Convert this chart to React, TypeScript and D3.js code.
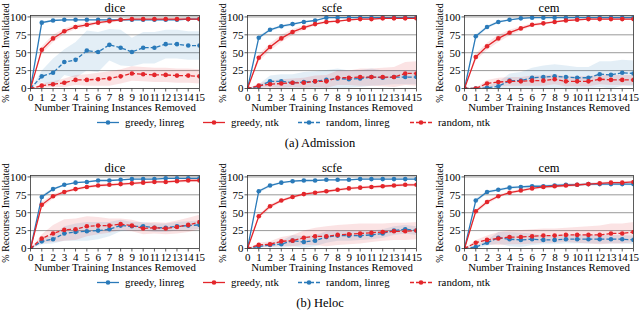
import * as React from "react"
import * as d3 from "d3"

// x categories and ticks
const removed = [0, 1, 2, 3, 4, 5, 6, 7, 8, 9, 10, 11, 12, 13, 14, 15]
const yTicks = [0, 25, 50, 75, 100]
const methods = ["dice", "scfe", "cem"]
const captions = ["(a) Admission", "(b) Heloc"]
const seriesNames = ["greedy, linreg", "greedy, ntk", "random, linreg", "random, ntk"]

// Admission - dice
const admDiceGL = [0, 92, 95, 96, 96, 96, 96, 96, 96, 96, 96, 96, 96, 96, 97, 97]
const admDiceGLStd = [0, 2, 1, 1, 1, 1, 1, 1, 1, 1, 1, 1, 1, 1, 1, 1]
const admDiceGN = [0, 54, 70, 80, 86, 89, 92, 94, 96, 97, 97, 97, 97, 97, 97, 97]
const admDiceGNStd = [0, 5, 5, 4, 3, 3, 2, 2, 2, 1, 1, 1, 1, 1, 1, 1]
const admDiceRL = [0, 17, 22, 37, 40, 53, 51, 61, 57, 51, 57, 57, 62, 62, 60, 60]
const admDiceRLStd = [0, 8, 20, 18, 25, 28, 28, 22, 25, 20, 22, 22, 20, 20, 20, 20]
const admDiceRN = [0, 4, 6, 8, 12, 12, 13, 14, 17, 21, 20, 19, 19, 18, 18, 17]
const admDiceRNStd = [0, 3, 4, 6, 7, 8, 9, 10, 10, 10, 10, 10, 10, 10, 10, 10]

// Admission - scfe
const admScfeGL = [0, 71, 82, 87, 90, 93, 95, 99, 99, 99, 99, 99, 99, 99, 99, 99]
const admScfeGLStd = [0, 3, 2, 2, 2, 1, 1, 0, 0, 0, 0, 0, 0, 0, 0, 0]
const admScfeGN = [0, 43, 58, 70, 79, 85, 90, 93, 94, 96, 97, 97, 98, 98, 98, 98]
const admScfeGNStd = [0, 5, 5, 5, 4, 3, 2, 2, 1, 1, 1, 1, 1, 1, 1, 1]
const admScfeRL = [0, 3, 10, 10, 8, 9, 10, 12, 14, 13, 14, 16, 15, 16, 16, 16]
const admScfeRLStd = [0, 3, 8, 10, 12, 14, 14, 14, 14, 12, 12, 12, 10, 10, 10, 10]
const admScfeRN = [0, 4, 6, 7, 8, 8, 10, 10, 15, 15, 16, 16, 16, 16, 21, 21]
const admScfeRNStd = [0, 3, 5, 6, 6, 7, 8, 9, 10, 10, 12, 12, 13, 14, 16, 17]

// Admission - cem
const admCemGL = [0, 73, 86, 93, 96, 98, 99, 99, 99, 99, 99, 99, 99, 99, 99, 99]
const admCemGLStd = [0, 3, 2, 2, 1, 1, 1, 0, 0, 0, 0, 0, 0, 0, 0, 0]
const admCemGN = [0, 44, 59, 70, 78, 84, 89, 91, 93, 95, 96, 97, 97, 97, 97, 97]
const admCemGNStd = [0, 5, 5, 5, 4, 3, 2, 2, 1, 1, 1, 1, 1, 1, 1, 1]
const admCemRL = [0, 0, 1, 3, 11, 11, 15, 16, 17, 16, 15, 15, 20, 19, 22, 21]
const admCemRLStd = [0, 1, 3, 6, 10, 12, 14, 16, 17, 16, 15, 15, 18, 19, 18, 18]
const admCemRN = [0, 0, 7, 9, 10, 10, 11, 11, 13, 10, 10, 10, 13, 12, 12, 12]
const admCemRNStd = [0, 1, 5, 6, 6, 6, 7, 7, 7, 7, 7, 7, 7, 7, 7, 7]

// Heloc - dice
const helDiceGL = [0, 72, 83, 89, 92, 93, 95, 95, 96, 97, 97, 97, 98, 98, 98, 98]
const helDiceGLStd = [0, 3, 2, 1, 1, 1, 1, 1, 1, 1, 1, 1, 1, 1, 1, 1]
const helDiceGN = [0, 61, 73, 79, 83, 86, 88, 89, 90, 91, 92, 93, 93, 94, 95, 95]
const helDiceGNStd = [0, 4, 3, 2, 2, 2, 2, 2, 2, 2, 2, 2, 2, 2, 2, 2]
const helDiceRL = [0, 10, 13, 21, 23, 24, 25, 27, 32, 31, 31, 29, 29, 31, 32, 33]
const helDiceRLStd = [0, 4, 6, 10, 12, 13, 12, 10, 8, 6, 6, 6, 6, 6, 6, 6]
const helDiceRN = [0, 14, 21, 26, 27, 31, 32, 32, 34, 32, 28, 29, 28, 30, 33, 37]
const helDiceRNStd = [0, 6, 12, 15, 15, 14, 12, 10, 8, 8, 8, 8, 8, 9, 10, 10]

// Heloc - scfe
const helScfeGL = [0, 80, 88, 92, 94, 95, 95, 96, 96, 96, 97, 97, 97, 97, 97, 97]
const helScfeGLStd = [0, 2, 2, 1, 1, 1, 1, 1, 1, 1, 1, 1, 1, 1, 1, 1]
const helScfeGN = [0, 45, 59, 67, 72, 76, 78, 80, 82, 84, 85, 86, 87, 88, 89, 89]
const helScfeGNStd = [0, 3, 3, 2, 2, 2, 2, 2, 2, 2, 2, 2, 2, 2, 2, 2]
const helScfeRL = [0, 3, 5, 6, 11, 9, 11, 16, 18, 18, 18, 19, 21, 25, 27, 25]
const helScfeRLStd = [0, 2, 3, 5, 8, 8, 8, 8, 7, 7, 6, 6, 6, 6, 6, 6]
const helScfeRN = [0, 5, 6, 10, 11, 15, 17, 17, 19, 20, 21, 22, 23, 24, 24, 25]
const helScfeRNStd = [0, 3, 4, 6, 8, 10, 12, 14, 14, 14, 14, 13, 12, 12, 12, 12]

// Heloc - cem
const helCemGL = [0, 67, 79, 82, 85, 86, 87, 87, 88, 89, 89, 90, 90, 90, 90, 90]
const helCemGLStd = [0, 3, 2, 2, 2, 2, 2, 2, 2, 2, 2, 2, 2, 2, 2, 2]
const helCemGN = [0, 52, 65, 73, 78, 81, 84, 86, 87, 88, 89, 90, 91, 92, 92, 93]
const helCemGNStd = [0, 3, 3, 2, 2, 2, 2, 2, 2, 2, 2, 2, 2, 2, 2, 2]
const helCemRL = [0, 2, 8, 15, 13, 12, 13, 12, 12, 13, 13, 13, 13, 13, 13, 12]
const helCemRLStd = [0, 2, 4, 8, 10, 10, 8, 6, 6, 6, 6, 6, 6, 6, 6, 6]
const helCemRN = [0, 8, 12, 14, 16, 16, 17, 18, 18, 19, 19, 19, 19, 21, 21, 23]
const helCemRNStd = [0, 4, 6, 9, 10, 10, 10, 10, 10, 10, 11, 12, 13, 14, 14, 14]

type Series = { mean: number[]; std: number[] }

// rows = datasets, cols = methods, inner = series in legend order
const panels: Series[][][] = [
  [
    [
      { mean: admDiceGL, std: admDiceGLStd },
      { mean: admDiceGN, std: admDiceGNStd },
      { mean: admDiceRL, std: admDiceRLStd },
      { mean: admDiceRN, std: admDiceRNStd },
    ],
    [
      { mean: admScfeGL, std: admScfeGLStd },
      { mean: admScfeGN, std: admScfeGNStd },
      { mean: admScfeRL, std: admScfeRLStd },
      { mean: admScfeRN, std: admScfeRNStd },
    ],
    [
      { mean: admCemGL, std: admCemGLStd },
      { mean: admCemGN, std: admCemGNStd },
      { mean: admCemRL, std: admCemRLStd },
      { mean: admCemRN, std: admCemRNStd },
    ],
  ],
  [
    [
      { mean: helDiceGL, std: helDiceGLStd },
      { mean: helDiceGN, std: helDiceGNStd },
      { mean: helDiceRL, std: helDiceRLStd },
      { mean: helDiceRN, std: helDiceRNStd },
    ],
    [
      { mean: helScfeGL, std: helScfeGLStd },
      { mean: helScfeGN, std: helScfeGNStd },
      { mean: helScfeRL, std: helScfeRLStd },
      { mean: helScfeRN, std: helScfeRNStd },
    ],
    [
      { mean: helCemGL, std: helCemGLStd },
      { mean: helCemGN, std: helCemGNStd },
      { mean: helCemRL, std: helCemRLStd },
      { mean: helCemRN, std: helCemRNStd },
    ],
  ],
]

const BLUE = "#2a7ab9"
const RED = "#e3262b"
const seriesColor = [BLUE, RED, BLUE, RED]
const seriesDash = [null, null, "4,2", "4,2"]
const FONT = "'Liberation Serif', 'Times New Roman', serif"

export default function App() {
  const svgRef = React.useRef<SVGSVGElement>(null)

  React.useEffect(() => {
    if (!svgRef.current) return
    const svg = d3.select(svgRef.current)
    svg.selectAll("*").remove()

    const plotLefts = [30.5, 247.5, 464.5]
    const rowTops = [15.5, 175.5]
    const plotW = 169
    const plotH = 73

    const x = d3.scaleLinear().domain([0, 15]).range([0, plotW])
    const y = d3.scaleLinear().domain([0, 102]).range([plotH, 0])

    const line = d3
      .line<number>()
      .x((_, i) => x(removed[i]))
      .y((d) => y(d))

    const band = d3
      .area<number>()
      .x((_, i) => x(removed[i]))

    rowTops.forEach((top, r) => {
      plotLefts.forEach((left, c) => {
        const g = svg.append("g").attr("transform", `translate(${left},${top})`)
        const clipId = `clip-${r}-${c}`
        g.append("clipPath")
          .attr("id", clipId)
          .append("rect")
          .attr("width", plotW)
          .attr("height", plotH)

        // grid
        g.selectAll(".grid")
          .data(yTicks.slice(1))
          .enter()
          .append("line")
          .attr("x1", 0)
          .attr("x2", plotW)
          .attr("y1", (d) => y(d))
          .attr("y2", (d) => y(d))
          .attr("stroke", "#9a9a9a")
          .attr("stroke-width", 1)

        const series = panels[r][c]
        const plot = g.append("g").attr("clip-path", `url(#${clipId})`)

        // bands
        series.forEach((s, k) => {
          plot
            .append("path")
            .attr(
              "d",
              band
                .y0((_, i) => y(Math.max(0, s.mean[i] - s.std[i])))
                .y1((_, i) => y(s.mean[i] + s.std[i]))(s.mean)
            )
            .attr("fill", seriesColor[k])
            .attr("fill-opacity", 0.13)
        })

        // lines + markers
        series.forEach((s, k) => {
          plot
            .append("path")
            .attr("d", line(s.mean))
            .attr("fill", "none")
            .attr("stroke", seriesColor[k])
            .attr("stroke-width", 1.3)
            .attr("stroke-dasharray", seriesDash[k])
          plot
            .selectAll(`.m${k}`)
            .data(s.mean)
            .enter()
            .append("circle")
            .attr("cx", (_, i) => x(removed[i]))
            .attr("cy", (d) => y(d))
            .attr("r", 2.3)
            .attr("fill", seriesColor[k])
        })

        // frame
        g.append("rect")
          .attr("width", plotW)
          .attr("height", plotH)
          .attr("fill", "none")
          .attr("stroke", "#333")
          .attr("stroke-width", 0.8)

        // y ticks
        yTicks.forEach((t) => {
          g.append("line")
            .attr("x1", -3)
            .attr("x2", 0)
            .attr("y1", y(t))
            .attr("y2", y(t))
            .attr("stroke", "#333")
            .attr("stroke-width", 0.8)
          g.append("text")
            .attr("x", -4)
            .attr("y", y(t))
            .attr("dy", "0.35em")
            .attr("text-anchor", "end")
            .style("font-family", FONT)
            .style("font-size", "11px")
            .text(t)
        })

        // x ticks
        removed.forEach((t) => {
          g.append("line")
            .attr("x1", x(t))
            .attr("x2", x(t))
            .attr("y1", plotH)
            .attr("y2", plotH + 3)
            .attr("stroke", "#333")
            .attr("stroke-width", 0.8)
          g.append("text")
            .attr("x", x(t))
            .attr("y", plotH + 12)
            .attr("text-anchor", "middle")
            .style("font-family", FONT)
            .style("font-size", "11px")
            .style("letter-spacing", "-0.5px")
            .text(t)
        })

        // title
        g.append("text")
          .attr("x", plotW / 2)
          .attr("y", -3.5)
          .attr("text-anchor", "middle")
          .style("font-family", FONT)
          .style("font-size", "12.5px")
          .text(methods[c])

        // axis labels
        g.append("text")
          .attr("x", plotW / 2)
          .attr("y", plotH + 22.5)
          .attr("text-anchor", "middle")
          .style("font-family", FONT)
          .style("font-size", "10.8px")
          .text("Number Training Instances Removed")

        g.append("text")
          .attr("transform", `translate(${-25},${plotH / 2 + 1}) rotate(-90)`)
          .attr("text-anchor", "middle")
          .attr("dy", "0.35em")
          .style("font-family", FONT)
          .style("font-size", "10px")
          .text("% Recourses Invalidated")
      })

      // legend
      const legendY = top + plotH + 34
      const legendX = [97, 203, 298, 410]
      seriesNames.forEach((name, k) => {
        const lg = svg.append("g").attr("transform", `translate(${legendX[k]},${legendY})`)
        lg.append("line")
          .attr("x1", 0)
          .attr("x2", 22)
          .attr("stroke", seriesColor[k])
          .attr("stroke-width", 1.3)
          .attr("stroke-dasharray", seriesDash[k])
        lg.append("circle").attr("cx", 11).attr("r", 2.3).attr("fill", seriesColor[k])
        lg.append("text")
          .attr("x", 28)
          .attr("dy", "0.32em")
          .style("font-family", FONT)
          .style("font-size", "10.8px")
          .text(name)
      })

      // caption
      svg
        .append("text")
        .attr("x", 320)
        .attr("y", top + plotH + 58)
        .attr("text-anchor", "middle")
        .style("font-family", FONT)
        .style("font-size", "12.5px")
        .text(captions[r])
    })

    return () => {
      svg.selectAll("*").remove()
    }
  }, [])

  return (
    <svg
      ref={svgRef}
      width={640}
      height={311}
      viewBox="0 0 640 311"
      style={{ position: "absolute", left: 0, top: 0, background: "#fff" }}
    />
  )
}
